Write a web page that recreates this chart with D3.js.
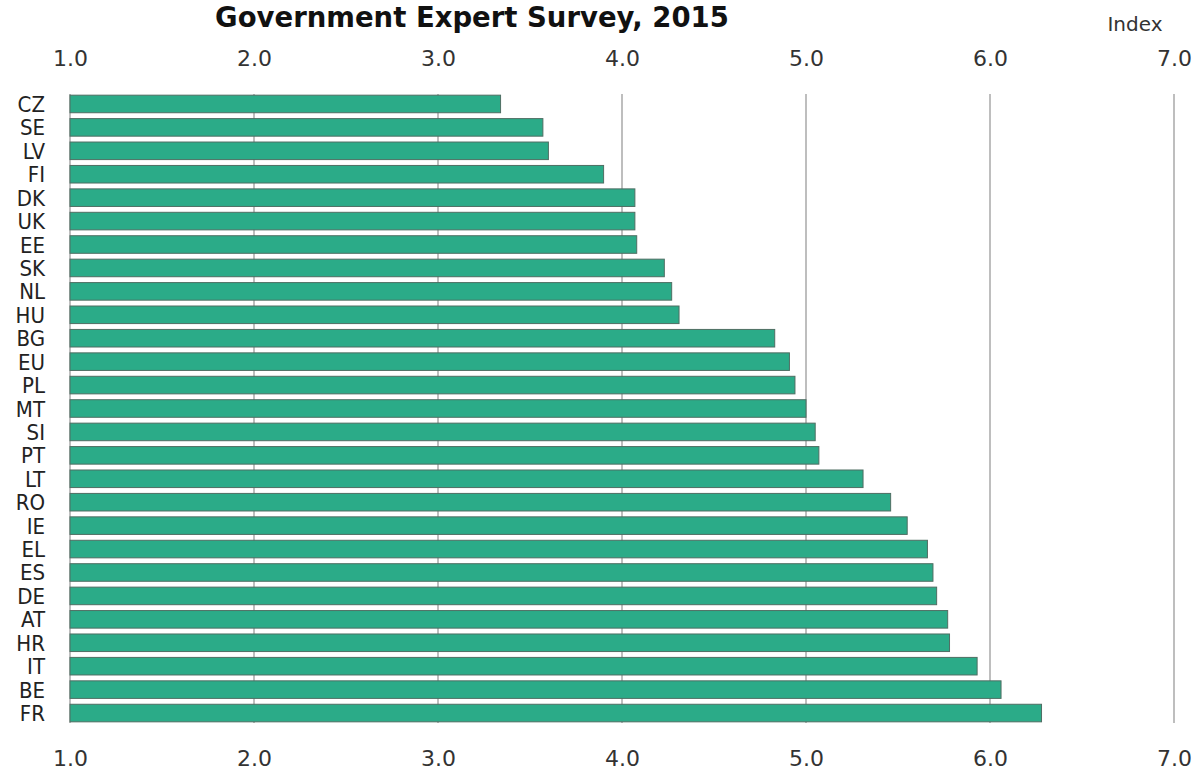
<!DOCTYPE html>
<html>
<head>
<meta charset="utf-8">
<script src="https://cdn.jsdelivr.net/npm/d3@7"></script>
<style>
  body { margin: 0; background: #fff; }
  svg { display: block; }
</style>
</head>
<body>
<div id="chart"></div>
<script>
// data
const countries = ["CZ","SE","LV","FI","DK","UK","EE","SK","NL","HU","BG","EU","PL","MT",
                   "SI","PT","LT","RO","IE","EL","ES","DE","AT","HR","IT","BE","FR"];
const scores = [3.34, 3.57, 3.60, 3.90, 4.07, 4.07, 4.08, 4.23, 4.27, 4.31, 4.83, 4.91, 4.94, 5.00,
                5.05, 5.07, 5.31, 5.46, 5.55, 5.66, 5.69, 5.71, 5.77, 5.78, 5.93, 6.06, 6.28];
const tickValues = [1, 2, 3, 4, 5, 6, 7];
const title = "Government Expert Survey, 2015";
const unit = "Index";

const W = 1195, H = 770;
const plotTop = 94, plotBottom = 723;

var svg = d3.select("#chart").append("svg")
            .attr("width", W).attr("height", H);

var x = d3.scaleLinear().domain([1, 7]).range([70, 1174]);
var y = d3.scaleBand().domain(countries).range([plotTop, plotBottom])
          .paddingInner(0.25).paddingOuter(0.05);

// title + unit
svg.append("text")
   .attr("x", 472).attr("y", 27)
   .attr("text-anchor", "middle")
   .style("font-family", "'DejaVu Sans', sans-serif")
   .style("font-weight", "bold")
   .style("font-size", "27.5px")
   .attr("fill", "#111")
   .text(title);

svg.append("text")
   .attr("x", 1135).attr("y", 31)
   .attr("text-anchor", "middle")
   .style("font-family", "'DejaVu Sans', sans-serif")
   .style("font-size", "20px")
   .attr("fill", "#333")
   .text(unit);

// grid lines
svg.append("g").selectAll("line")
   .data(tickValues).enter()
   .append("line")
   .attr("x1", d => x(d)).attr("x2", d => x(d))
   .attr("y1", plotTop).attr("y2", plotBottom)
   .attr("stroke", "#a8a8a8")
   .attr("stroke-width", 1.5);

// bars
svg.append("g").selectAll("rect")
   .data(countries).enter()
   .append("rect")
   .attr("x", x(1))
   .attr("y", d => y(d))
   .attr("width", (d, i) => x(scores[i]) - x(1))
   .attr("height", y.bandwidth())
   .attr("fill", "#2bab88")
   .attr("stroke", "#4f6e63")
   .attr("stroke-width", 1);

// category labels
svg.append("g").selectAll("text")
   .data(countries).enter()
   .append("text")
   .attr("x", 45)
   .attr("y", d => y(d) + y.bandwidth() / 2 + 8)
   .attr("text-anchor", "end")
   .style("font-family", "'DejaVu Sans Condensed', sans-serif")
   .style("font-size", "22px")
   .attr("fill", "#222")
   .text(d => d);

// top and bottom axes (labels only)
function styleAxis(g, baseline) {
  g.select(".domain").remove();
  g.selectAll(".tick line").remove();
  g.selectAll(".tick text")
   .attr("y", baseline).attr("dy", null)
   .style("font-family", "'DejaVu Sans', sans-serif")
   .style("font-size", "22px")
   .attr("fill", "#333");
}

var fmt = d3.format(".1f");
svg.append("g")
   .call(d3.axisTop(x).tickValues(tickValues).tickFormat(fmt).tickSize(0))
   .call(g => styleAxis(g, 66));

svg.append("g")
   .call(d3.axisBottom(x).tickValues(tickValues).tickFormat(fmt).tickSize(0))
   .call(g => styleAxis(g, 766));
</script>
</body>
</html>
